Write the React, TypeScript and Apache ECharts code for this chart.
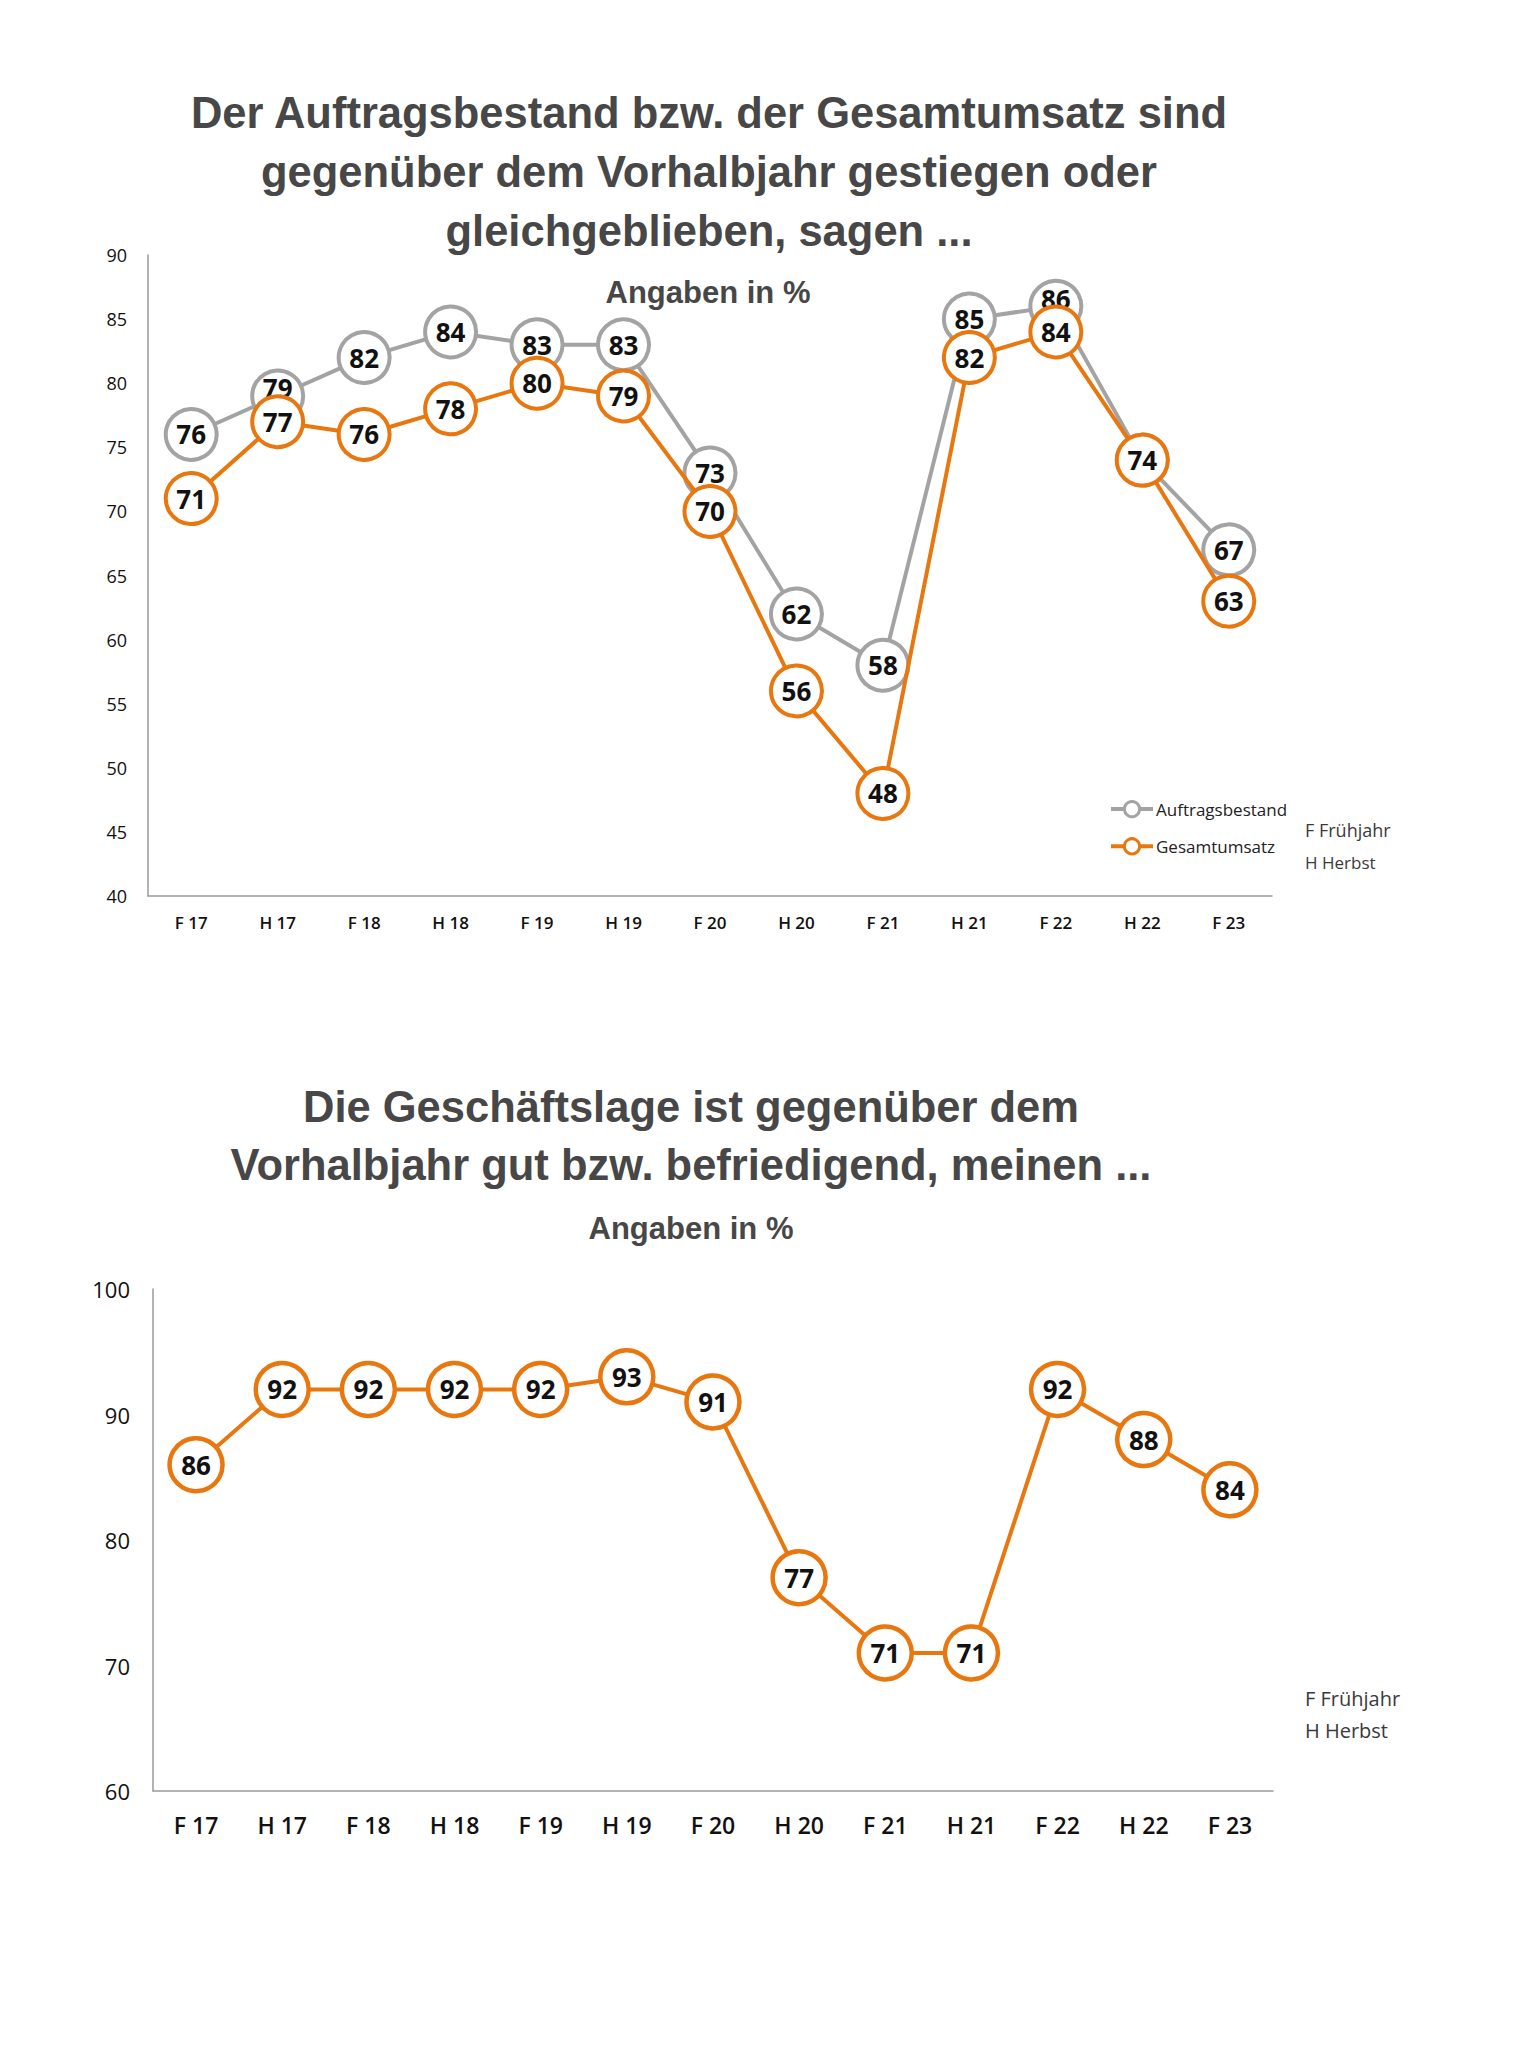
import React, { useEffect, useRef } from "react";
import * as echarts from "echarts";

const categories = ["F 17", "H 17", "F 18", "H 18", "F 19", "H 19", "F 20", "H 20", "F 21", "H 21", "F 22", "H 22", "F 23"];
const auftragsbestand = [76, 79, 82, 84, 83, 83, 73, 62, 58, 85, 86, 74, 67];
const gesamtumsatz = [71, 77, 76, 78, 80, 79, 70, 56, 48, 82, 84, 74, 63];
const geschaeftslage = [86, 92, 92, 92, 92, 93, 91, 77, 71, 71, 92, 88, 84];

const title1Lines = [
  "Der Auftragsbestand bzw. der Gesamtumsatz sind",
  "gegenüber dem Vorhalbjahr gestiegen oder",
  "gleichgeblieben, sagen ...",
];
const title2Lines = ["Die Geschäftslage ist gegenüber dem", "Vorhalbjahr gut bzw. befriedigend, meinen ..."];
const subtitle = "Angaben in %";
const footnote = ["F Frühjahr", "H Herbst"];

const GRAY = "#a3a3a3";
const ORANGE = "#e8770f";
const TITLE_COLOR = "#474747";
const LABEL_FONT = "'Open Sans', 'Noto Sans', sans-serif";
const TITLE_FONT = "'Liberation Sans', Arial, sans-serif";

// label nudges for labels overlapped by the other series' markers
const grayLabelOffsets: Record<number, number[]> = { 1: [0, -8], 10: [0, -7] };

export default function App() {
  const ref = useRef<HTMLDivElement>(null);

  useEffect(() => {
    document.body.style.margin = "0";
    if (!ref.current) return;
    const chart = echarts.init(ref.current, undefined, { renderer: "svg" });

    const titleText = (text: string, x: number, y: number, size: number) => ({
      type: "text",
      x,
      y,
      style: {
        text,
        fill: TITLE_COLOR,
        font: `bold ${size}px ${TITLE_FONT}`,
        textAlign: "center",
        textVerticalAlign: "middle",
      },
    });
    const noteText = (text: string, x: number, y: number, size: number) => ({
      type: "text",
      x,
      y,
      style: {
        text,
        fill: "#3a3a3a",
        font: `${size}px ${LABEL_FONT}`,
        textAlign: "left",
        textVerticalAlign: "middle",
      },
    });

    const labelStyle = (size: number) => ({
      show: true,
      position: "inside",
      fontSize: size,
      fontWeight: "bold",
      fontFamily: LABEL_FONT,
      color: "#111",
    });

    chart.setOption({
      animation: false,
      backgroundColor: "#fff",
      graphic: [
        titleText(title1Lines[0], 709, 113, 43.5),
        titleText(title1Lines[1], 709, 172, 43.5),
        titleText(title1Lines[2], 709, 231, 43.5),
        titleText(subtitle, 708, 292, 31),
        titleText(title2Lines[0], 691, 1107, 43.5),
        titleText(title2Lines[1], 691, 1165, 43.5),
        titleText(subtitle, 691, 1228, 31),
        noteText(footnote[0], 1305, 830, 18),
        noteText(footnote[1], 1305, 862, 17),
        noteText(footnote[0], 1305, 1698, 20),
        noteText(footnote[1], 1305, 1730, 20),
      ],
      legend: {
        data: ["Auftragsbestand", "Gesamtumsatz"],
        orient: "vertical",
        left: 1104,
        top: 795,
        itemWidth: 42,
        itemHeight: 19,
        itemGap: 19,
        lineStyle: { width: 4 },
        itemStyle: { borderWidth: 3 },
        textStyle: { fontSize: 17, color: "#222", fontFamily: LABEL_FONT, padding: [0, 0, 0, -2] },
      },
      grid: [
        { left: 148, top: 255, width: 1124, height: 641 },
        { left: 153, top: 1289, width: 1120, height: 502 },
      ],
      xAxis: [
        {
          type: "category",
          gridIndex: 0,
          data: categories,
          boundaryGap: true,
          axisLine: { lineStyle: { color: "#9a9a9a", width: 1.5 } },
          axisTick: { show: false },
          axisLabel: { fontSize: 17, fontWeight: 600, color: "#111", fontFamily: LABEL_FONT, margin: 18 },
        },
        {
          type: "category",
          gridIndex: 1,
          data: categories,
          boundaryGap: true,
          axisLine: { lineStyle: { color: "#9a9a9a", width: 1.5 } },
          axisTick: { show: false },
          axisLabel: { fontSize: 23, fontWeight: 600, color: "#111", fontFamily: LABEL_FONT, margin: 22 },
        },
      ],
      yAxis: [
        {
          type: "value",
          gridIndex: 0,
          min: 40,
          max: 90,
          interval: 5,
          axisLine: { show: true, lineStyle: { color: "#9a9a9a", width: 1.5 } },
          axisTick: { show: false },
          splitLine: { show: false },
          axisLabel: { fontSize: 18, color: "#111", fontFamily: LABEL_FONT, margin: 21 },
        },
        {
          type: "value",
          gridIndex: 1,
          min: 60,
          max: 100,
          interval: 10,
          axisLine: { show: true, lineStyle: { color: "#9a9a9a", width: 1.5 } },
          axisTick: { show: false },
          splitLine: { show: false },
          axisLabel: { fontSize: 22, color: "#111", fontFamily: LABEL_FONT, margin: 23 },
        },
      ],
      series: [
        {
          name: "Auftragsbestand",
          type: "line",
          xAxisIndex: 0,
          yAxisIndex: 0,
          data: auftragsbestand.map((v, i) =>
            grayLabelOffsets[i] ? { value: v, label: { offset: grayLabelOffsets[i] } } : v
          ),
          symbol: "circle",
          symbolSize: 51,
          showAllSymbol: true,
          lineStyle: { color: GRAY, width: 4 },
          itemStyle: { color: "#fff", borderColor: GRAY, borderWidth: 4 },
          label: labelStyle(26),
          z: 2,
        },
        {
          name: "Gesamtumsatz",
          type: "line",
          xAxisIndex: 0,
          yAxisIndex: 0,
          data: gesamtumsatz,
          symbol: "circle",
          symbolSize: 51,
          showAllSymbol: true,
          lineStyle: { color: ORANGE, width: 4 },
          itemStyle: { color: "#fff", borderColor: ORANGE, borderWidth: 4 },
          label: labelStyle(26),
          z: 3,
        },
        {
          name: "Geschäftslage",
          type: "line",
          xAxisIndex: 1,
          yAxisIndex: 1,
          data: geschaeftslage,
          symbol: "circle",
          symbolSize: 53,
          showAllSymbol: true,
          lineStyle: { color: ORANGE, width: 4 },
          itemStyle: { color: "#fff", borderColor: ORANGE, borderWidth: 4.5 },
          label: labelStyle(26),
          z: 3,
        },
      ],
    });

    return () => chart.dispose();
  }, []);

  return <div ref={ref} style={{ width: 1520, height: 2052 }} />;
}
